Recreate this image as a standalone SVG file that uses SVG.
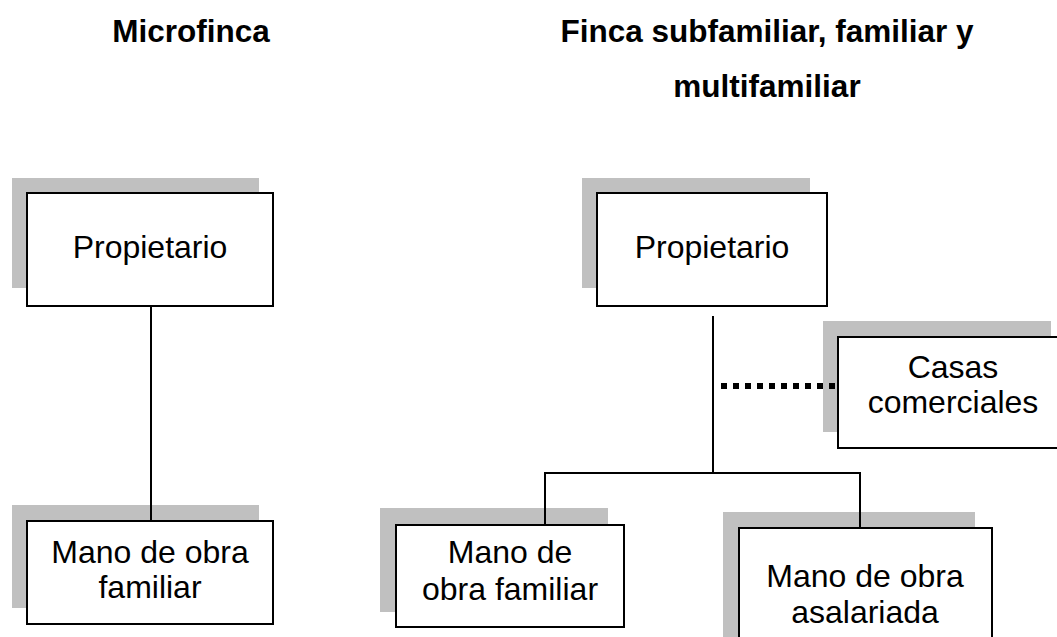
<svg xmlns="http://www.w3.org/2000/svg" width="1057" height="637" viewBox="0 0 1057 637">
<style>
.sh{fill:#c0c0c0}
.bx{fill:#fff;stroke:#000;stroke-width:2}
.t{font-family:"Liberation Sans",Arial,sans-serif;font-size:32px;fill:#000;text-anchor:middle}
.h{font-family:"Liberation Sans",Arial,sans-serif;font-size:31.5px;font-weight:bold;fill:#000;text-anchor:middle}
.ln{stroke:#000;stroke-width:2;fill:none}
.dot{stroke:#000;stroke-width:6;stroke-dasharray:6 6;fill:none}
</style>
<rect width="1057" height="637" fill="#fff"/>
<g id="titles">
<text class="h" x="191" y="42">Microfinca</text>
<text class="h" x="767" y="42">Finca subfamiliar, familiar y</text>
<text class="h" x="767" y="97">multifamiliar</text>
</g>
<g id="prop1">
<rect class="sh" x="12" y="178" width="247" height="110"/>
<rect class="bx" x="27" y="193" width="246" height="113"/>
<text class="t" x="150" y="258">Propietario</text>
</g>
<g id="mano1">
<rect class="sh" x="12" y="505" width="247" height="103"/>
<rect class="bx" x="27" y="521" width="246" height="103"/>
<text class="t" x="150" y="563">Mano de obra</text>
<text class="t" x="150" y="598">familiar</text>
</g>
<g id="prop2">
<rect class="sh" x="582" y="178" width="228" height="110"/>
<rect class="bx" x="597" y="193" width="230" height="113"/>
<text class="t" x="712" y="258">Propietario</text>
</g>
<g id="casas">
<rect class="sh" x="823" y="321" width="228" height="111"/>
<rect class="bx" x="838" y="337" width="225" height="111"/>
<text class="t" x="953" y="378">Casas</text>
<text class="t" x="953" y="413">comerciales</text>
</g>
<g id="mano2">
<rect class="sh" x="380" y="508" width="228" height="104"/>
<rect class="bx" x="396" y="525" width="228" height="102"/>
<text class="t" x="510" y="563">Mano de</text>
<text class="t" x="510" y="600">obra familiar</text>
</g>
<g id="mano3">
<rect class="sh" x="723" y="512" width="252" height="140"/>
<rect class="bx" x="739" y="528" width="253" height="130"/>
<text class="t" x="865" y="587">Mano de obra</text>
<text class="t" x="865" y="623">asalariada</text>
</g>
<g id="connectors">
<line class="ln" x1="151" y1="306" x2="151" y2="521"/>
<line class="ln" x1="713" y1="316" x2="713" y2="473"/>
<polyline class="ln" points="545,525 545,473 860,473 860,528"/>
<line class="dot" x1="721" y1="386" x2="838" y2="386"/>
</g>
</svg>
